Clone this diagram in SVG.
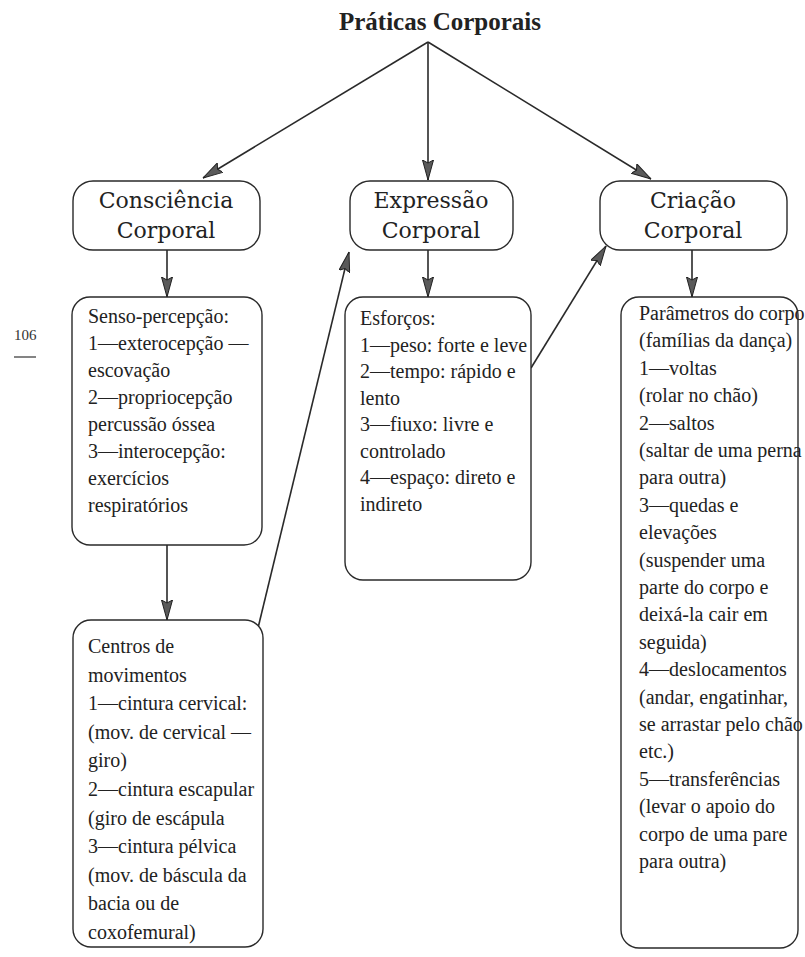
<svg xmlns="http://www.w3.org/2000/svg" width="805" height="957" viewBox="0 0 805 957">
<style>
.bg{fill:#ffffff}
.box{fill:#ffffff;stroke:#2a2a2a;stroke-width:1.4}
.head{font-family:"DejaVu Serif","Liberation Serif",serif;font-size:22px;fill:#222;text-anchor:middle}
.body{font-family:"Liberation Serif","Times New Roman",serif;font-size:20px;fill:#222}
.title{font-family:"Liberation Serif","Times New Roman",serif;font-size:25px;font-weight:bold;fill:#222;text-anchor:middle}
.pg{font-family:"Liberation Serif","Times New Roman",serif;font-size:15px;fill:#333}
.con{fill:none;stroke:#2a2a2a;stroke-width:1.6}
</style>
<defs>
<marker id="ah" viewBox="0 0 20 12" refX="20" refY="6" markerWidth="20" markerHeight="12" orient="auto" markerUnits="userSpaceOnUse">
<path d="M0,0.5 L20,6 L0,11.5 L3,6 Z" fill="#5a5a5a" stroke="#222" stroke-width="1"/>
</marker>
</defs>
<rect class="bg" x="0" y="0" width="805" height="957"/>

<g id="page-number">
<text class="pg" x="14" y="340">106</text>
<line x1="14" y1="357" x2="36" y2="357" stroke="#333" stroke-width="1.2"/>
</g>

<g id="connectors">
<line class="con" x1="428" y1="42" x2="203" y2="178" marker-end="url(#ah)"/>
<line class="con" x1="428" y1="42" x2="428" y2="180" marker-end="url(#ah)"/>
<line class="con" x1="428" y1="42" x2="651" y2="179" marker-end="url(#ah)"/>
<line class="con" x1="167" y1="250" x2="167" y2="297" marker-end="url(#ah)"/>
<line class="con" x1="428" y1="250" x2="428" y2="297" marker-end="url(#ah)"/>
<line class="con" x1="692" y1="250" x2="692" y2="297" marker-end="url(#ah)"/>
<line class="con" x1="167" y1="545" x2="167" y2="620" marker-end="url(#ah)"/>
<line class="con" x1="258" y1="628" x2="349" y2="252" marker-end="url(#ah)"/>
<line class="con" x1="531" y1="368" x2="606" y2="246" marker-end="url(#ah)"/>
</g>

<g id="title">
<text class="title" x="440" y="30">Práticas Corporais</text>
</g>

<g id="consciencia">
<rect class="box" x="73" y="181" width="187" height="69" rx="20"/>
<text class="head" x="166" y="208">Consciência</text>
<text class="head" x="166" y="238">Corporal</text>
</g>

<g id="expressao">
<rect class="box" x="350" y="181" width="163" height="69" rx="20"/>
<text class="head" x="431" y="208">Expressão</text>
<text class="head" x="431" y="238">Corporal</text>
</g>

<g id="criacao">
<rect class="box" x="600" y="181" width="187" height="69" rx="20"/>
<text class="head" x="693" y="208">Criação</text>
<text class="head" x="693" y="238">Corporal</text>
</g>

<g id="senso">
<rect class="box" x="72" y="297" width="190" height="248" rx="18"/>
<text class="body">
<tspan x="88" y="323">Senso-percepção:</tspan>
<tspan x="88" dy="27">1—exterocepção —</tspan>
<tspan x="88" dy="27">escovação</tspan>
<tspan x="88" dy="27">2—propriocepção</tspan>
<tspan x="88" dy="27">percussão óssea</tspan>
<tspan x="88" dy="27">3—interocepção:</tspan>
<tspan x="88" dy="27">exercícios</tspan>
<tspan x="88" dy="27">respiratórios</tspan>
</text>
</g>

<g id="esforcos">
<rect class="box" x="345" y="297" width="186" height="283" rx="18"/>
<text class="body">
<tspan x="360" y="325">Esforços:</tspan>
<tspan x="360" dy="26.5">1—peso: forte e leve</tspan>
<tspan x="360" dy="26.5">2—tempo: rápido e</tspan>
<tspan x="360" dy="26.5">lento</tspan>
<tspan x="360" dy="26.5">3—fiuxo: livre e</tspan>
<tspan x="360" dy="26.5">controlado</tspan>
<tspan x="360" dy="26.5">4—espaço: direto e</tspan>
<tspan x="360" dy="26.5">indireto</tspan>
</text>
</g>

<g id="parametros">
<rect class="box" x="621" y="297" width="177" height="651" rx="18"/>
<text class="body">
<tspan x="639" y="320">Parâmetros do corpo</tspan>
<tspan x="639" dy="27.4">(famílias da dança)</tspan>
<tspan x="639" dy="27.4">1—voltas</tspan>
<tspan x="639" dy="27.4">(rolar no chão)</tspan>
<tspan x="639" dy="27.4">2—saltos</tspan>
<tspan x="639" dy="27.4">(saltar de uma perna</tspan>
<tspan x="639" dy="27.4">para outra)</tspan>
<tspan x="639" dy="27.4">3—quedas e</tspan>
<tspan x="639" dy="27.4">elevações</tspan>
<tspan x="639" dy="27.4">(suspender uma</tspan>
<tspan x="639" dy="27.4">parte do corpo e</tspan>
<tspan x="639" dy="27.4">deixá-la cair em</tspan>
<tspan x="639" dy="27.4">seguida)</tspan>
<tspan x="639" dy="27.4">4—deslocamentos</tspan>
<tspan x="639" dy="27.4">(andar, engatinhar,</tspan>
<tspan x="639" dy="27.4">se arrastar pelo chão</tspan>
<tspan x="639" dy="27.4">etc.)</tspan>
<tspan x="639" dy="27.4">5—transferências</tspan>
<tspan x="639" dy="27.4">(levar o apoio do</tspan>
<tspan x="639" dy="27.4">corpo de uma pare</tspan>
<tspan x="639" dy="27.4">para outra)</tspan>
</text>
</g>

<g id="centros">
<rect class="box" x="73" y="620" width="190" height="327" rx="18"/>
<text class="body">
<tspan x="88" y="653">Centros de</tspan>
<tspan x="88" dy="28.6">movimentos</tspan>
<tspan x="88" dy="28.6">1—cintura cervical:</tspan>
<tspan x="88" dy="28.6">(mov. de cervical —</tspan>
<tspan x="88" dy="28.6">giro)</tspan>
<tspan x="88" dy="28.6">2—cintura escapular</tspan>
<tspan x="88" dy="28.6">(giro de escápula</tspan>
<tspan x="88" dy="28.6">3—cintura pélvica</tspan>
<tspan x="88" dy="28.6">(mov. de báscula da</tspan>
<tspan x="88" dy="28.6">bacia ou de</tspan>
<tspan x="88" dy="28.6">coxofemural)</tspan>
</text>
</g>
</svg>
